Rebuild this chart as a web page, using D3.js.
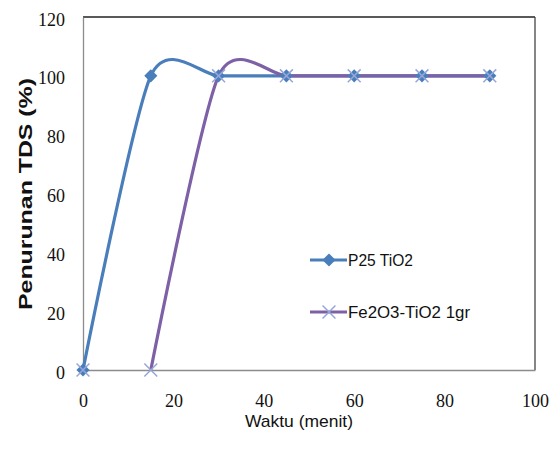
<!DOCTYPE html>
<html>
<head>
<meta charset="utf-8">
<script src="https://cdn.jsdelivr.net/npm/d3@7"></script>
<style>
  body { margin: 0; background: #fff; }
  svg { display: block; }
</style>
</head>
<body>
<div id="chart"></div>
<script>
// data
var waktu = [0, 15, 30, 45, 60, 75, 90];
var p25 = [0, 100, 100, 100, 100, 100, 100];
var fe2o3 = [0, 0, 100, 100, 100, 100, 100];
var seriesNames = ["P25 TiO2", "Fe2O3-TiO2 1gr"];
var xTicks = [0, 20, 40, 60, 80, 100];
var yTicks = [0, 20, 40, 60, 80, 100, 120];

var width = 559, height = 454;
var blue = "#4a7ebb", purple = "#7d60a6", crossCol = "#97a6d9";

var svg = d3.select("#chart").append("svg")
    .attr("width", width)
    .attr("height", height);

var x = d3.scaleLinear().domain([0, 100]).range([83, 535]);
var y = d3.scaleLinear().domain([0, 120]).range([370, 17]);

// plot frame: grey axes, black top/right
svg.append("line").attr("x1", x(0)).attr("x2", x(100)).attr("y1", y(120)).attr("y2", y(120))
    .attr("stroke", "#222").attr("stroke-width", 1.3);
svg.append("line").attr("x1", x(100)).attr("x2", x(100)).attr("y1", y(120)).attr("y2", y(0))
    .attr("stroke", "#444").attr("stroke-width", 1.3);

var xAxis = svg.append("g")
    .attr("transform", "translate(0," + y(0) + ")")
    .call(d3.axisBottom(x).tickValues(xTicks).tickSize(0).tickPadding(24));
var yAxis = svg.append("g")
    .attr("transform", "translate(" + x(0) + ",0)")
    .call(d3.axisLeft(y).tickValues(yTicks).tickSize(0).tickPadding(18));

[xAxis, yAxis].forEach(function(a) {
  a.select(".domain").attr("stroke", "#8c8c8c").attr("stroke-width", 1.3);
  a.selectAll("text")
    .attr("font-family", "'Liberation Serif', serif")
    .attr("font-size", 18)
    .attr("fill", "#111");
});
yAxis.selectAll("text").attr("dy", "0.45em");

// smooth lines like Excel
var line = d3.line()
    .x(function(d) { return x(d[0]); })
    .y(function(d) { return y(d[1]); })
    .curve(d3.curveCardinal.tension(0.25));

var blueData = waktu.map(function(w, i) { return [w, p25[i]]; });
var purpleData = waktu.map(function(w, i) { return [w, fe2o3[i]]; });

svg.append("path").datum(blueData)
    .attr("d", line).attr("fill", "none")
    .attr("stroke", blue).attr("stroke-width", 3.2);
// Fe2O3 line starts from 15 min (first point is marker only)
svg.append("path").datum(purpleData.slice(1))
    .attr("d", line).attr("fill", "none")
    .attr("stroke", purple).attr("stroke-width", 3.2);

var diamond = d3.symbol().type(d3.symbolDiamond2).size(110);
svg.selectAll(".dia").data(blueData).enter().append("path")
    .attr("class", "dia")
    .attr("transform", function(d) { return "translate(" + x(d[0]) + "," + y(d[1]) + ")"; })
    .attr("d", diamond)
    .attr("fill", blue);

var cross = d3.symbol().type(d3.symbolX).size(110);
svg.selectAll(".crs").data(purpleData).enter().append("path")
    .attr("class", "crs")
    .attr("transform", function(d) { return "translate(" + x(d[0]) + "," + y(d[1]) + ")"; })
    .attr("d", cross)
    .attr("fill", "none")
    .attr("stroke", crossCol)
    .attr("stroke-width", 1.5);

// legend
var legend = svg.append("g");
var legY = [260, 312];
var legColors = [blue, purple];
var legWidths = [65, 122];
seriesNames.forEach(function(name, i) {
  var g = legend.append("g").attr("transform", "translate(310," + legY[i] + ")");
  g.append("line").attr("x1", 0).attr("x2", 37).attr("y1", 0).attr("y2", 0)
      .attr("stroke", legColors[i]).attr("stroke-width", 3.2);
  g.append("path")
      .attr("transform", "translate(19,0)")
      .attr("d", i === 0 ? diamond : cross)
      .attr("fill", i === 0 ? blue : "none")
      .attr("stroke", i === 0 ? "none" : crossCol)
      .attr("stroke-width", 1.5);
  g.append("text")
      .attr("x", 38).attr("y", 0).attr("dy", "0.36em")
      .attr("font-family", "'Liberation Sans', sans-serif")
      .attr("font-size", 17)
      .attr("textLength", legWidths[i])
      .attr("lengthAdjust", "spacingAndGlyphs")
      .attr("fill", "#111")
      .text(name);
});

// axis titles
svg.append("text")
    .attr("x", 299).attr("y", 427)
    .attr("text-anchor", "middle")
    .attr("font-family", "'Liberation Sans', sans-serif")
    .attr("font-size", 17)
    .attr("textLength", 108)
    .attr("lengthAdjust", "spacingAndGlyphs")
    .attr("fill", "#111")
    .text("Waktu (menit)");

svg.append("text")
    .attr("transform", "translate(32,194) rotate(-90)")
    .attr("text-anchor", "middle")
    .attr("font-family", "'Liberation Sans', sans-serif")
    .attr("font-weight", "bold")
    .attr("font-size", 18)
    .attr("textLength", 232)
    .attr("lengthAdjust", "spacingAndGlyphs")
    .attr("fill", "#111")
    .text("Penurunan  TDS (%)");
</script>
</body>
</html>
